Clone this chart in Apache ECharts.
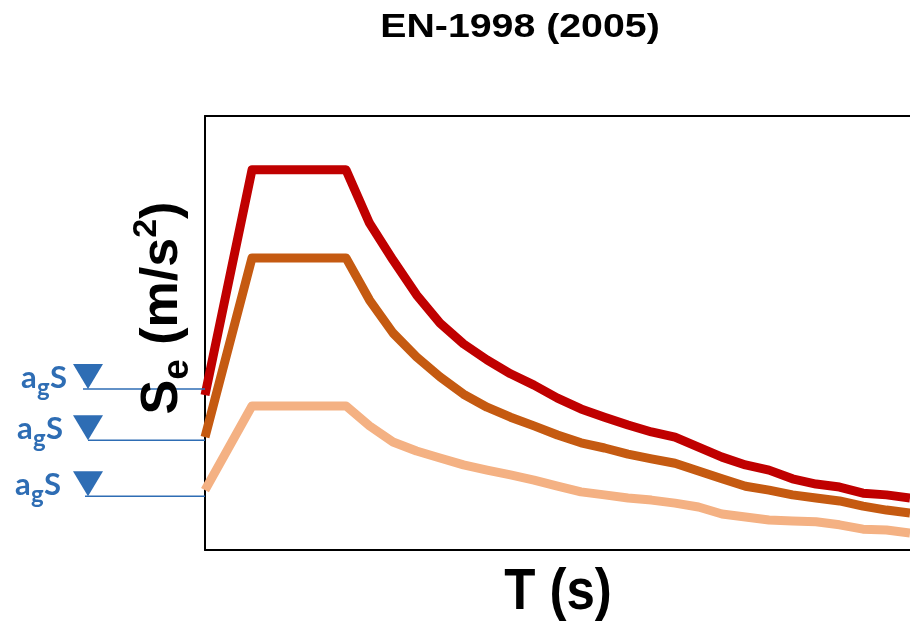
<!DOCTYPE html>
<html>
<head>
<meta charset="utf-8">
<script src="https://cdn.jsdelivr.net/npm/echarts@6/dist/echarts.min.js"></script>
<style>
html,body{margin:0;padding:0;background:#fff;}
#chart{width:910px;height:622px;}
</style>
</head>
<body>
<div id="chart"></div>
<script>
// Periods T (s)
const periods = [0, 0.2, 0.6, 0.7, 0.8, 0.9, 1.0, 1.1, 1.2, 1.3, 1.4, 1.5, 1.6, 1.7, 1.8, 1.9, 2.0, 2.1, 2.2, 2.3, 2.4, 2.5, 2.6, 2.7, 2.8, 2.9, 3.0];
// Elastic spectral acceleration Se (m/s²) for three ground accelerations
const seHigh = [3.57, 8.76, 8.76, 7.53, 6.68, 5.88, 5.23, 4.75, 4.38, 4.06, 3.80, 3.50, 3.25, 3.06, 2.88, 2.72, 2.60, 2.37, 2.14, 1.96, 1.84, 1.64, 1.52, 1.45, 1.31, 1.27, 1.20];
const seMid  = [2.60, 6.73, 6.73, 5.76, 5.00, 4.45, 3.99, 3.59, 3.29, 3.06, 2.86, 2.65, 2.47, 2.35, 2.21, 2.10, 2.00, 1.82, 1.64, 1.47, 1.38, 1.27, 1.20, 1.13, 1.01, 0.92, 0.85];
const seLow  = [1.38, 3.32, 3.32, 2.86, 2.49, 2.28, 2.12, 1.96, 1.84, 1.73, 1.61, 1.47, 1.34, 1.27, 1.20, 1.15, 1.08, 0.99, 0.83, 0.76, 0.69, 0.67, 0.65, 0.58, 0.48, 0.46, 0.39];
// a_g·S reference levels marked on the left
const agSLevels = [3.71, 2.53, 1.24];
const seriesNames = ['High', 'Medium', 'Low'];
const titleText = 'EN-1998 (2005)';

const colors = ['#C00000', '#C55A11', '#F4B183'];
const blue = '#2E6DB4';

const chart = echarts.init(document.getElementById('chart'), null, {renderer: 'canvas'});

function pairs(vals) { return periods.map((t, i) => [t, vals[i]]); }

const allSeries = [seHigh, seMid, seLow].map((vals, i) => ({
  name: seriesNames[i],
  type: 'line',
  data: pairs(vals),
  symbol: 'none',
  lineStyle: {color: colors[i], width: 9, join: 'round', cap: 'butt'},
  z: 5 - i,
  animation: false
}));

const hiddenAxis = {axisTick: {show: false}, axisLabel: {show: false}, splitLine: {show: false}};

chart.setOption({
  animation: false,
  backgroundColor: '#fff',
  grid: {left: 205, top: 116, bottom: 72, right: 0},
  xAxis: [
    Object.assign({type: 'value', min: 0, max: 3.0, position: 'bottom', axisLine: {show: true, onZero: false, lineStyle: {color: '#000', width: 2}}}, hiddenAxis),
    Object.assign({type: 'value', min: 0, max: 3.0, position: 'top', axisLine: {show: true, onZero: false, lineStyle: {color: '#000', width: 2}}}, hiddenAxis)
  ],
  yAxis: Object.assign({type: 'value', min: 0, max: 10, axisLine: {show: true, onZero: false, lineStyle: {color: '#000', width: 2}}}, hiddenAxis),
  series: allSeries
});

const x0 = chart.convertToPixel({xAxisIndex: 0}, 0);
const textStarts = [21, 17, 15];
const lineStarts = [83, 88, 85];
const graphics = [];

graphics.push({
  type: 'text', x: 520, y: 28, scaleX: 1.19, z: 10,
  style: {text: titleText, font: 'bold 33px "Liberation Sans", Arial, sans-serif', fill: '#000', align: 'center', verticalAlign: 'middle'}
});
graphics.push({
  type: 'text', x: 558, y: 593, scaleX: 0.88, z: 10,
  style: {text: 'T (s)', font: 'bold 58px "Liberation Sans", Arial, sans-serif', fill: '#000', align: 'center', verticalAlign: 'middle'}
});
graphics.push({
  type: 'text', x: 163, y: 308, rotation: Math.PI / 2, z: 10,
  style: {
    text: '{m|S}{sub|e}{m| (m/s}{sup|2}{m|)}',
    align: 'center', verticalAlign: 'middle',
    rich: {
      m: {font: 'bold 52px "Liberation Sans", Arial, sans-serif', fill: '#000', lineHeight: 66, verticalAlign: 'middle'},
      sub: {font: 'bold 37px "Liberation Sans", Arial, sans-serif', fill: '#000', lineHeight: 37, verticalAlign: 'bottom'},
      sup: {font: 'bold 34px "Liberation Sans", Arial, sans-serif', fill: '#000', lineHeight: 40, verticalAlign: 'top'}
    }
  }
});

agSLevels.forEach((lv, i) => {
  const py = chart.convertToPixel({yAxisIndex: 0}, lv);
  const tx = textStarts[i];
  graphics.push({type: 'line', z: 9, shape: {x1: lineStarts[i], y1: py, x2: x0, y2: py}, style: {stroke: blue, lineWidth: 1.5}});
  graphics.push({type: 'polygon', z: 9, shape: {points: [[73, py - 25], [103, py - 25], [88, py]]}, style: {fill: blue}});
  graphics.push({type: 'text', z: 9, x: tx, y: py - 11, style: {text: 'a', font: 'bold 31px Lato, "Open Sans", sans-serif', fill: blue, align: 'left', verticalAlign: 'middle'}});
  graphics.push({type: 'text', z: 9, x: tx + 16, y: py - 1, style: {text: 'g', font: 'bold 24px Lato, "Open Sans", sans-serif', fill: blue, align: 'left', verticalAlign: 'middle'}});
  graphics.push({type: 'text', z: 9, x: tx + 29, y: py - 11, style: {text: 'S', font: 'bold 31px Lato, "Open Sans", sans-serif', fill: blue, align: 'left', verticalAlign: 'middle'}});
});

chart.setOption({graphic: graphics});
</script>
</body>
</html>
